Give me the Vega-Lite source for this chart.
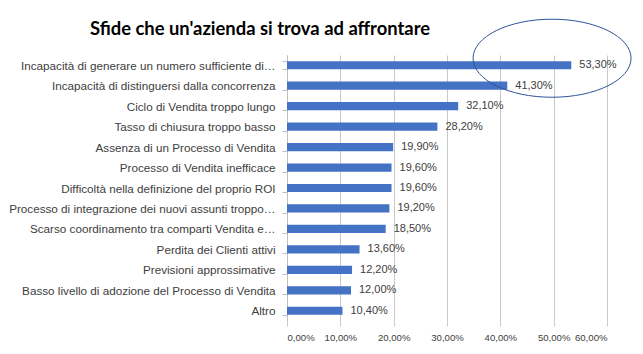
{
  "$schema": "https://vega.github.io/schema/vega-lite/v6.json",
  "autosize": {"type": "none"},
  "padding": {"left": 287, "top": 55, "right": 36, "bottom": 33},
  "width": 320,
  "height": 266,
  "background": "white",
  "config": {
    "locale": {"number": {"decimal": ",", "thousands": ".", "grouping": [3], "currency": ["€", ""]}},
    "view": {"stroke": null},
    "font": "Liberation Sans"
  },
  "title": {
    "text": "Sfide che un'azienda si trova ad affrontare",
    "font": "Lato",
    "fontSize": 18.4,
    "fontWeight": "bold",
    "color": "#000000",
    "anchor": "start",
    "frame": "group",
    "dx": -197,
    "offset": -21
  },
  "data": {
    "values": [
      {"sfida": "Incapacità di generare un numero sufficiente di…", "valore": 0.533},
      {"sfida": "Incapacità di distinguersi dalla concorrenza", "valore": 0.413},
      {"sfida": "Ciclo di Vendita troppo lungo", "valore": 0.321},
      {"sfida": "Tasso di chiusura troppo basso", "valore": 0.282},
      {"sfida": "Assenza di un Processo di Vendita", "valore": 0.199},
      {"sfida": "Processo di Vendita inefficace", "valore": 0.196},
      {"sfida": "Difficoltà nella definizione del proprio ROI", "valore": 0.196},
      {"sfida": "Processo di integrazione dei nuovi assunti troppo…", "valore": 0.192},
      {"sfida": "Scarso coordinamento tra comparti Vendita e…", "valore": 0.185},
      {"sfida": "Perdita dei Clienti attivi", "valore": 0.136},
      {"sfida": "Previsioni approssimative", "valore": 0.122},
      {"sfida": "Basso livello di adozione del Processo di Vendita", "valore": 0.12},
      {"sfida": "Altro", "valore": 0.104}
    ]
  },
  "encoding": {
    "y": {
      "field": "sfida",
      "type": "nominal",
      "sort": null,
      "scale": {"paddingInner": 0.6, "paddingOuter": 0.3},
      "axis": {
        "title": null,
        "tickBand": "extent",
        "domainColor": "#bfbfbf",
        "tickColor": "#bfbfbf",
        "tickSize": 5,
        "labelFontSize": 11.7,
        "labelColor": "#404040",
        "labelPadding": 7,
        "labelLimit": 400
      }
    },
    "x": {
      "field": "valore",
      "type": "quantitative",
      "scale": {"domain": [0, 0.6], "nice": false},
      "axis": {
        "title": null,
        "format": ".2%",
        "values": [0, 0.1, 0.2, 0.3, 0.4, 0.5, 0.6],
        "labelOverlap": false,
        "domain": false,
        "grid": true,
        "gridColor": "#c8c8c8",
        "tickColor": "#c8c8c8",
        "tickSize": 5,
        "labelFontSize": 9.6,
        "labelColor": "#404040",
        "labelPadding": 6
      }
    }
  },
  "layer": [
    {"mark": {"type": "bar", "color": "#4472C4"}},
    {
      "mark": {"type": "text", "align": "left", "dx": 8, "fontSize": 11, "color": "#404040"},
      "encoding": {"text": {"field": "valore", "format": ".2%"}}
    },
    {
      "data": {"values": [{"sfida": "Incapacità di generare un numero sufficiente di…", "valore": 0.497}]},
      "mark": {
        "type": "point",
        "shape": "M -1 0 A 1 0.494 0 1 0 1 0 A 1 0.494 0 1 0 -1 0 Z",
        "size": 24964,
        "filled": false,
        "stroke": "#2F5597",
        "strokeWidth": 1,
        "opacity": 1,
        "yOffset": -7
      }
    }
  ]
}
